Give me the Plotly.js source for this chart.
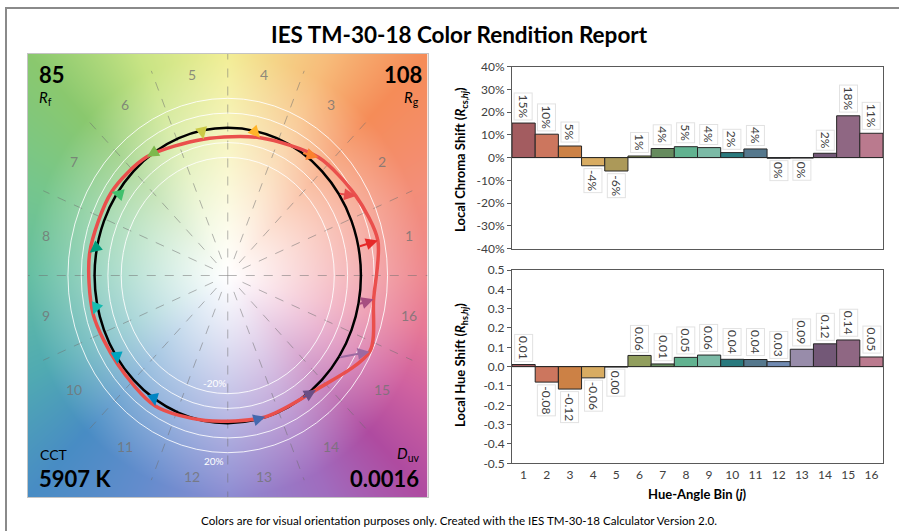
<!DOCTYPE html>
<html><head><meta charset="utf-8">
<script src="https://cdn.plot.ly/plotly-3.0.1.min.js"></script>
<style>html,body{margin:0;padding:0;background:#fff}#chart{width:899px;height:531px}</style>
</head><body><div id="chart"></div>
<script>
// ---------- data ----------
const bins = [1,2,3,4,5,6,7,8,9,10,11,12,13,14,15,16];
const binLabels = ['1','2','3','4','5','6','7','8','9','10','11','12','13','14','15','16'];
const chromaShift = [0.152, 0.103, 0.051, -0.036, -0.059, 0.007, 0.040, 0.048, 0.044, 0.022, 0.038, -0.003, -0.002, 0.019, 0.184, 0.107];
const hueShift = [0.011, -0.080, -0.116, -0.058, -0.002, 0.058, 0.014, 0.048, 0.060, 0.038, 0.037, 0.026, 0.090, 0.118, 0.138, 0.050];
const barColors = ['#a35c60','#cc765e','#cc8145','#d8ac62','#ac9959','#919e5d','#668b5e','#61b290','#7bbaa6','#297a7e','#55788d','#708ab2','#988caa','#735877','#8f6783','#ba7a8e'];
const arrowColors = ['#e62828','#e74b4b','#fb812e','#ffb529','#cbca46','#7eb94c','#41c06d','#009c7c','#16bcb0','#00a4bf','#0085c3','#3b62aa','#4568ae','#6a4e85','#9d69a1','#a74f81'];
const chromaTickVals = [-0.4,-0.3,-0.2,-0.1,0,0.1,0.2,0.3,0.4];
const chromaTickText = ['-40%','-30%','-20%','-10%','0%','10%','20%','30%','40%'];
const hueTickVals = [-0.5,-0.4,-0.3,-0.2,-0.1,0,0.1,0.2,0.3,0.4,0.5];
const hueTickText = ['-0.5','-0.4','-0.3','-0.2','-0.1','0.0','0.1','0.2','0.3','0.4','0.5'];
const Rf = '85', Rg = '108', CCT = '5907 K', Duv = '0.0016';
const ringRadii = [0.8, 0.9, 1.1, 1.2];

// background hue anchors (decoration only): angle in degrees, rgb
const bgAnchors = [
 [0,[238,135,142]],[23,[243,142,120]],[45,[245,140,88]],[63,[247,188,122]],
 [90,[242,238,150]],[114,[200,228,132]],[135,[138,200,110]],[157,[118,198,140]],
 [180,[100,190,162]],[205,[80,170,178]],[225,[72,140,196]],[246,[100,140,205]],
 [270,[140,140,210]],[297,[160,108,190]],[315,[175,75,160]],[331,[208,98,160]],
 [346,[230,120,150]],[360,[238,135,142]]
];

// ---------- helpers ----------
const W = 899, H = 531;
const px = v => v / W, py = v => 1 - v / H;
const FONT = 'Lato, "Open Sans", sans-serif';

function makeBackground(w, h) {
  const c = document.createElement('canvas'); c.width = w; c.height = h;
  const ctx = c.getContext('2d'); const img = ctx.createImageData(w, h);
  for (let j = 0; j < h; j++) for (let i = 0; i < w; i++) {
    const x = -1.5 + 3 * (i + 0.5) / w, y = 1.5 - 3 * (j + 0.5) / h;
    const r = Math.hypot(x, y);
    let a = Math.atan2(y, x) * 180 / Math.PI; if (a < 0) a += 360;
    let k = 0; while (k < bgAnchors.length - 2 && bgAnchors[k + 1][0] < a) k++;
    const a0 = bgAnchors[k], a1 = bgAnchors[k + 1];
    const t = (a - a0[0]) / (a1[0] - a0[0]);
    const s = Math.min(1, Math.pow(r / 1.5, 1.1));
    const o = 4 * (j * w + i);
    for (let ch = 0; ch < 3; ch++) {
      const col = a0[1][ch] + (a1[1][ch] - a0[1][ch]) * t;
      img.data[o + ch] = Math.round(255 + (col - 255) * s);
    }
    img.data[o + 3] = 255;
  }
  ctx.putImageData(img, 0, 0);
  return c.toDataURL('image/png');
}

// ---------- vector graphic geometry from data ----------
const refAng = bins.map(b => (b - 0.5) * 22.5 * Math.PI / 180);
const testX = bins.map((b, i) => (1 + chromaShift[i]) * Math.cos(refAng[i] + hueShift[i]));
const testY = bins.map((b, i) => (1 + chromaShift[i]) * Math.sin(refAng[i] + hueShift[i]));

const traces = [
  { type: 'bar', x: bins, y: chromaShift, xaxis: 'x', yaxis: 'y', width: 1,
    marker: { color: barColors, line: { color: '#262626', width: 1 } }, hoverinfo: 'skip' },
  { type: 'bar', x: bins, y: hueShift, xaxis: 'x2', yaxis: 'y2', width: 1,
    marker: { color: barColors, line: { color: '#262626', width: 1 } }, hoverinfo: 'skip' },
  { type: 'scatter', mode: 'lines', x: testX.concat([testX[0]]), y: testY.concat([testY[0]]),
    xaxis: 'x3', yaxis: 'y3', line: { color: '#ea4f4c', width: 3.5, shape: 'spline', smoothing: 0.8 }, hoverinfo: 'skip' }
];

const shapes = [];
for (let k = 0; k < 16; k++) {
  const a = k * 22.5 * Math.PI / 180;
  const r0 = (k % 4 === 0) ? 0 : 0.12;
  shapes.push({ type: 'line', xref: 'x3', yref: 'y3', layer: 'between', x0: r0 * Math.cos(a), y0: r0 * Math.sin(a),
    x1: 1.5 * Math.cos(a), y1: 1.5 * Math.sin(a), line: { color: 'rgba(110,110,110,0.5)', width: 1, dash: 'dash' } });
}
ringRadii.forEach(r => shapes.push({ type: 'circle', xref: 'x3', yref: 'y3', layer: 'between',
  x0: -r, x1: r, y0: -r, y1: r, line: { color: 'rgba(255,255,255,0.85)', width: 1 } }));
shapes.push({ type: 'circle', xref: 'x3', yref: 'y3', layer: 'between', x0: -1, x1: 1, y0: -1, y1: 1,
  line: { color: '#000', width: 2.5 } });
// outer frame
shapes.push({ type: 'rect', xref: 'paper', yref: 'paper', layer: 'above', x0: px(6), x1: 1.05, y0: -0.05, y1: py(8),
  line: { color: '#8a8a8a', width: 2 } });

const ann = [];
const A = (o) => ann.push(Object.assign({ showarrow: false, font: { family: FONT, size: 12, color: '#000' } }, o));

A({ xref: 'paper', yref: 'paper', x: px(459.5), y: py(34), text: '<b>IES TM-30-18 Color Rendition Report</b>',
  font: { family: FONT, size: 22.5, color: '#000' }, xanchor: 'center', yanchor: 'middle' });
A({ xref: 'paper', yref: 'paper', x: px(458.5), y: py(520), text: 'Colors are for visual orientation purposes only. Created with the IES TM-30-18 Calculator Version 2.0.',
  font: { family: FONT, size: 11.6, color: '#000' }, xanchor: 'center', yanchor: 'middle' });
A({ xref: 'paper', yref: 'paper', x: px(461), y: py(159), textangle: -90, xanchor: 'center', yanchor: 'middle',
  text: '<b>Local Chroma Shift (<i>R</i><sub>cs,<i>hj</i></sub>)</b>', font: { family: FONT, size: 13, color: '#000' } });
A({ xref: 'paper', yref: 'paper', x: px(461), y: py(365), textangle: -90, xanchor: 'center', yanchor: 'middle',
  text: '<b>Local Hue Shift (<i>R</i><sub>hs,<i>hj</i></sub>)</b>', font: { family: FONT, size: 13, color: '#000' } });
A({ xref: 'paper', yref: 'paper', x: px(697.5), y: py(494), xanchor: 'center', yanchor: 'middle',
  text: '<b>Hue-Angle Bin (<i>j</i>)</b>', font: { family: FONT, size: 13, color: '#000' } });

// panel texts
A({ xref: 'paper', yref: 'paper', x: px(37), y: py(74), xanchor: 'left', yanchor: 'middle', text: '<b>' + Rf + '</b>', font: { family: FONT, size: 22, color: '#000' } });
A({ xref: 'paper', yref: 'paper', x: px(37), y: py(98), xanchor: 'left', yanchor: 'middle', text: '<i>R</i><sub>f</sub>', font: { family: FONT, size: 15, color: '#000' } });
A({ xref: 'paper', yref: 'paper', x: px(424), y: py(74), xanchor: 'right', yanchor: 'middle', text: '<b>' + Rg + '</b>', font: { family: FONT, size: 22, color: '#000' } });
A({ xref: 'paper', yref: 'paper', x: px(421), y: py(98), xanchor: 'right', yanchor: 'middle', text: '<i>R</i><sub>g</sub>', font: { family: FONT, size: 15, color: '#000' } });
A({ xref: 'paper', yref: 'paper', x: px(38), y: py(454), xanchor: 'left', yanchor: 'middle', text: 'CCT', font: { family: FONT, size: 14, color: '#000' } });
A({ xref: 'paper', yref: 'paper', x: px(37), y: py(478), xanchor: 'left', yanchor: 'middle', text: '<b>' + CCT + '</b>', font: { family: FONT, size: 22, color: '#000' } });
A({ xref: 'paper', yref: 'paper', x: px(421), y: py(454), xanchor: 'right', yanchor: 'middle', text: '<i>D</i><sub>uv</sub>', font: { family: FONT, size: 15, color: '#000' } });
A({ xref: 'paper', yref: 'paper', x: px(421), y: py(478), xanchor: 'right', yanchor: 'middle', text: '<b>' + Duv + '</b>', font: { family: FONT, size: 22, color: '#000' } });

// bin numbers around the graphic
bins.forEach((b, i) => A({ xref: 'x3', yref: 'y3', x: 1.39 * Math.cos(refAng[i]), y: 1.39 * Math.sin(refAng[i]),
  text: binLabels[i], xanchor: 'center', yanchor: 'middle', font: { family: FONT, size: 14, color: 'rgba(115,115,115,0.8)' } }));
A({ xref: 'x3', yref: 'y3', x: -0.1, y: -0.73, text: '-20%', font: { family: FONT, size: 10, color: '#fff' } });
A({ xref: 'x3', yref: 'y3', x: -0.1, y: -1.255, text: '20%', font: { family: FONT, size: 10, color: '#fff' } });

// bar labels
const fmtPct = v => Math.round(v * 100) + '%';
const fmtHue = v => (Math.abs(v) < 0.005 ? 0 : v).toFixed(2);
const lblFont = { family: FONT, size: 12, color: '#404040' };
bins.forEach((b, i) => {
  const v = chromaShift[i];
  A({ xref: 'x', yref: 'y', x: b, y: v, text: fmtPct(v), textangle: 90, font: lblFont,
    xanchor: 'center', yanchor: v >= 0 ? 'bottom' : 'top', yshift: v >= 0 ? 3 : -2,
    bordercolor: 'rgba(150,150,150,0.28)', borderwidth: 1, borderpad: 1 });
  const h = hueShift[i];
  A({ xref: 'x2', yref: 'y2', x: b, y: h, text: fmtHue(h), textangle: 90, font: lblFont,
    xanchor: 'center', yanchor: h >= 0 ? 'bottom' : 'top', yshift: h >= 0 ? 3 : -2,
    bordercolor: 'rgba(150,150,150,0.28)', borderwidth: 1, borderpad: 1 });
});

// arrows reference -> test
bins.forEach((b, i) => ann.push({ xref: 'x3', yref: 'y3', axref: 'x3', ayref: 'y3',
  x: testX[i], y: testY[i], ax: Math.cos(refAng[i]), ay: Math.sin(refAng[i]), text: '',
  showarrow: true, arrowhead: 2, arrowsize: 1.2, arrowwidth: 2, arrowcolor: arrowColors[i], standoff: 0, startstandoff: 0 }));

const axBase = { showgrid: false, zeroline: false, fixedrange: true, showline: true, mirror: true,
  linecolor: '#595959', linewidth: 1, tickfont: { family: FONT, size: 12, color: '#404040' } };

const layout = {
  width: W, height: H, margin: { l: 0, r: 0, t: 0, b: 0 }, paper_bgcolor: '#fff', plot_bgcolor: 'rgba(0,0,0,0)',
  showlegend: false, bargap: 0, font: { family: FONT },
  xaxis: Object.assign({}, axBase, { domain: [px(512), px(883)], anchor: 'y', range: [0.5, 16.5], showticklabels: false, ticks: '' }),
  yaxis: Object.assign({}, axBase, { domain: [py(248.5), py(66.7)], anchor: 'x', range: [-0.4, 0.4],
    tickvals: chromaTickVals, ticktext: chromaTickText, ticks: 'outside', ticklen: 4, tickcolor: '#595959',
    zeroline: true, zerolinecolor: '#262626', zerolinewidth: 1 }),
  xaxis2: Object.assign({}, axBase, { domain: [px(512), px(883)], anchor: 'y2', range: [0.5, 16.5],
    tickvals: bins, ticktext: binLabels, ticks: '' }),
  yaxis2: Object.assign({}, axBase, { domain: [py(463.3), py(270)], anchor: 'x2', range: [-0.5, 0.5],
    tickvals: hueTickVals, ticktext: hueTickText, ticks: 'outside', ticklen: 4, tickcolor: '#595959',
    zeroline: true, zerolinecolor: '#262626', zerolinewidth: 1 }),
  xaxis3: { domain: [px(28), px(427.5)], anchor: 'y3', range: [-1.5, 1.5], showgrid: false, zeroline: false,
    showticklabels: false, ticks: '', showline: true, mirror: true, linecolor: '#c4c4c4', linewidth: 1, fixedrange: true },
  yaxis3: { domain: [py(497), py(54)], anchor: 'x3', range: [-1.5, 1.5], showgrid: false, zeroline: false,
    showticklabels: false, ticks: '', showline: true, mirror: true, linecolor: '#c4c4c4', linewidth: 1, fixedrange: true },
  images: [{ source: makeBackground(400, 442), xref: 'x3', yref: 'y3', x: -1.5, y: 1.5, sizex: 3, sizey: 3,
    sizing: 'stretch', xanchor: 'left', yanchor: 'top', layer: 'below' }],
  shapes: shapes, annotations: ann
};

Plotly.newPlot('chart', traces, layout, { staticPlot: true, displayModeBar: false });
</script></body></html>
